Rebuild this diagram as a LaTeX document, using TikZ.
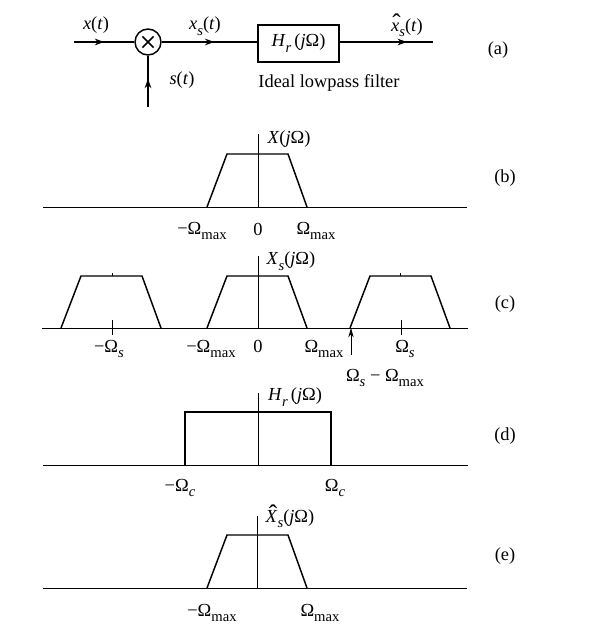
\documentclass[tikz,border=0pt]{standalone}
\usepackage{fontspec}
\setmainfont{Liberation Serif}
\usetikzlibrary{arrows.meta,decorations.markings}

\newcommand{\iv}[1]{\textit{#1}}
\newcommand{\sub}[1]{\raisebox{-0.32em}{\fontsize{11}{12}\selectfont #1}}
\newcommand{\hatof}[1]{\ooalign{#1\cr\hidewidth\kern0.15em\raisebox{-0.6pt}{\fontsize{19}{12}\selectfont ˆ}\hidewidth\cr}}

\begin{document}
\begin{tikzpicture}[x=0.75pt,y=-0.75pt,
    font=\fontsize{13.8}{16}\selectfont,
    sig/.style={line width=1.1pt},
    axis/.style={line width=0.6pt},
    spec/.style={line width=1.1pt, line join=miter},
    lbl/.style={inner sep=0pt},
    midarrow/.style={postaction={decorate},
        decoration={markings, mark=at position #1 with {\arrow{Stealth[length=7pt,width=5pt]}}}},
    mult/.style={circle, draw, line width=1.1pt, minimum size=19.5pt, inner sep=0pt,
        path picture={\draw[line width=1.1pt] (path picture bounding box.center) ++(-4.2pt,-4.2pt) -- ++(8.4pt,8.4pt)
                      (path picture bounding box.center) ++(-4.2pt,4.2pt) -- ++(8.4pt,-8.4pt);}},
    filter/.style={draw, line width=1.1pt, minimum width=60.75pt, minimum height=27.75pt, inner sep=0pt}
]
    \useasboundingbox (0,0) rectangle (589,632);

    % (a) sistema de amostragem e reconstrucao
    \coordinate (xin) at (74,42);
    \node[mult] (mul) at (148,42) {};
    \node[filter] (filt) at (298.5,43.5) {\iv{H}\sub{\iv{r}}\,(\iv{j}Ω)};
    \coordinate (xout) at (433,42);
    \coordinate (sin) at (148,107);

    \draw[sig, midarrow=0.5] (xin) -- (mul);
    \draw[sig, midarrow=0.55] (mul) -- (filt.west |- mul);
    \draw[sig, midarrow=0.72] (filt.east |- mul) -- (xout);
    \draw[sig, midarrow=0.55] (sin) -- (mul);

    \node[lbl] (lx) at (96,25) {\iv{x}(\iv{t})};
    \node[lbl] (lxs) at (205,26) {\iv{x}\sub{\iv{s}}(\iv{t})};
    \node[lbl, anchor=base] (lxh) at (407,31) {\hatof{\iv{x}}\sub{\iv{s}}(\iv{t})};
    \node[lbl] (ls) at (182,80) {\iv{s}(\iv{t})};
    \node[lbl] (lfilt) at (329,83) {Ideal lowpass filter};
    \node[lbl] (la) at (498,50) {(a)};

    % (b) espectro do sinal original
    \draw[axis] (43,207) -- (467,207);
    \draw[axis] (258,207) -- (258,134);
    \draw[spec] (207,207) -- (227,154) -- (288,154) -- (307,207);
    \node[lbl] (lX) at (289,139) {\iv{X}(\iv{j}Ω)};
    \node[lbl] at (202,231) {−Ω\sub{max}};
    \node[lbl] at (258,229) {0};
    \node[lbl] at (316,231) {Ω\sub{max}};
    \node[lbl] (lb) at (505,178) {(b)};

    % (c) espectro do sinal amostrado
    \draw[axis] (42,328) -- (468,328);
    \draw[axis] (258,328) -- (258,256);
    \foreach \c in {-146,0,143} {
        \draw[spec] (258+\c-51,328) -- (258+\c-31,276) -- (258+\c+30,276) -- (258+\c+49,328);
    }
    \draw[axis] (112,320) -- (112,335);
    \draw[axis] (401,320) -- (401,335);
    \draw[axis] (112,273) -- (112,276);
    \draw[axis] (400,273) -- (400,276);
    \coordinate (alias) at (351,355);
    \coordinate (aliastip) at (351,328);
    \draw[axis, -{Stealth[length=7pt,width=4pt]}] (alias) -- (aliastip);
    \node[lbl] (lXs) at (291,261) {\iv{X}\sub{\iv{s}}(\iv{j}Ω)};
    \node[lbl] at (109,349) {−Ω\sub{\iv{s}}};
    \node[lbl] at (211,349) {−Ω\sub{max}};
    \node[lbl] at (258,346) {0};
    \node[lbl] at (324,349) {Ω\sub{max}};
    \node[lbl] at (405,349) {Ω\sub{\iv{s}}};
    \node[lbl] at (385,378) {Ω\sub{\iv{s}} − Ω\sub{max}};
    \node[lbl] (lc) at (505,304) {(c)};

    % (d) filtro ideal
    \draw[axis] (43,465) -- (468,465);
    \draw[axis] (258,465) -- (258,393);
    \draw[spec] (185,465) -- (185,412) -- (331,412) -- (331,465);
    \node[lbl] (lH) at (295,397) {\iv{H}\sub{\iv{r}}\,(\iv{j}Ω)};
    \node[lbl] at (180,488) {−Ω\sub{\iv{c}}};
    \node[lbl] at (335,488) {Ω\sub{\iv{c}}};
    \node[lbl] (ld) at (505,436) {(d)};

    % (e) espectro reconstruido
    \draw[axis] (43,588) -- (467,588);
    \draw[axis] (257,588) -- (257,516);
    \draw[spec] (207,588) -- (227,535) -- (288,535) -- (307,588);
    \node[lbl, anchor=base] (lXh) at (290,522) {\hatof{\iv{X}}\sub{\iv{s}}(\iv{j}Ω)};
    \node[lbl] at (212,613) {−Ω\sub{max}};
    \node[lbl] at (320,613) {Ω\sub{max}};
    \node[lbl] (le) at (505,556) {(e)};

\end{tikzpicture}
\end{document}
